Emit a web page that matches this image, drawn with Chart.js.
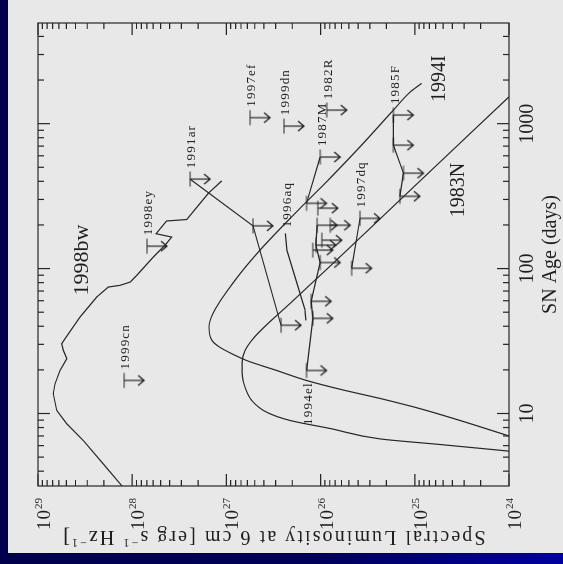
<!DOCTYPE html>
<html>
<head>
<meta charset="utf-8">
<script src="https://cdn.jsdelivr.net/npm/chart.js@4/dist/chart.umd.min.js"></script>
<style>
  html, body { margin: 0; padding: 0; width: 563px; height: 564px; overflow: hidden; }
  body { background: linear-gradient(90deg, #00004c 0%, #000058 55%, #0000a0 100%); position: relative; }
  #paper { position: absolute; left: 8px; top: 0; width: 555px; height: 553px; background: #e8e8e8; }
  #turn { position: absolute; left: 0; top: 0; width: 564px; height: 563px;
          transform-origin: 0 0; transform: translate(0, 564px) rotate(-90deg); }
</style>
</head>
<body>
<div id="paper"></div>
<div id="turn"><canvas id="c" width="564" height="563"></canvas></div>
<script>
// Axis ranges
const ageMin = 3.16, ageMax = 4950;
const lumMin = 1e24, lumMax = 1e29;
const ageMajor = [10, 100, 1000];
const ageTickLabels = ['10', '100', '1000'];
const lumMajor = [1e24, 1e25, 1e26, 1e27, 1e28, 1e29];
const lumTickExponents = ['24', '25', '26', '27', '28', '29'];

// SN 1998bw light curve (days, erg/s/Hz)
const bw98Age = [3.1, 4.49, 6.5, 8.49, 10.5, 13.7, 16.0, 19.8, 23.9, 27.2, 30.3, 32.8, 46.3, 63.6, 74.6, 76.6, 80.7, 89.8, 120, 145, 165, 174, 213, 218, 330, 403];
const bw98Lum = [1.25e28, 2.03e28, 3.30e28, 4.95e28, 6.32e28, 6.89e28, 6.6e28, 5.84e28, 4.95e28, 5.38e28, 5.6e28, 5.17e28, 3.58e28, 2.38e28, 1.79e28, 1.35e28, 1.05e28, 8.96e27, 5.97e27, 4.49e27, 3.81e27, 5.58e27, 4.31e27, 2.64e27, 1.56e27, 1.12e27];

// SN 1994I model curve
const i94Age = [7.0, 8.95, 10.8, 12.7, 14.7, 16.9, 19.8, 23.2, 25.6, 28.6, 31.9, 39.3, 49.1, 83, 134, 261, 420, 692, 1239, 1652, 1897];
const i94Lum = [1.0e24, 3.31e24, 8.8e24, 2.34e25, 6.2e25, 1.41e26, 2.92e26, 6.1e26, 8.5e26, 1.17e27, 1.42e27, 1.53e27, 1.39e27, 8.1e26, 4.40e26, 1.65e26, 7.94e25, 3.82e25, 1.69e25, 1.12e25, 8.45e24];

// SN 1983N model curve
const n83Age = [5.5, 6.11, 6.68, 7.88, 8.95, 10.2, 12.3, 15.2, 19.2, 22.5, 27.2, 34.0, 57.5, 104, 312, 1531];
const n83Lum = [1.0e24, 5.4e24, 2.34e25, 7.94e25, 2.11e26, 3.73e26, 5.38e26, 6.35e26, 6.82e26, 6.82e26, 6.35e26, 4.97e26, 2.11e26, 7.94e25, 1.33e25, 1.0e24];

// SN 1996aq detections
const aq96Age = [43.9, 52.3, 134, 175];
const aq96Lum = [1.43e26, 1.47e26, 2.28e26, 2.36e26];

// Upper limits (days, erg/s/Hz)
const cn99Age = [16.9];            const cn99Lum = [1.22e28];
const ey98Age = [142.6];           const ey98Lum = [6.97e27];
const ar91Age = [40.6, 197, 414];  const ar91Lum = [2.63e26, 5.22e26, 2.43e27];
const ef97Age = [1099];            const ef97Lum = [5.61e26];
const dn99Age = [961];             const dn99Lum = [2.45e26];
const r82Age = [1239];             const r82Lum = [8.6e25];
const m87Age = [282, 588];         const m87Lum = [1.41e26, 1.01e26];
const f85Age = [315, 455, 710, 1146]; const f85Lum = [1.44e25, 1.32e25, 1.69e25, 1.69e25];
const dq97Age = [100.5, 222];      const dq97Lum = [4.68e25, 3.82e25];
const el94Age = [19.8, 45.3, 59.4, 110, 145, 199]; const el94Lum = [1.41e26, 1.21e26, 1.26e26, 1.01e26, 1.12e26, 1.09e26];
const otherAge = [134, 157, 199, 261]; const otherLum = [1.21e26, 9.7e25, 7.9e25, 1.07e26];

const INK = '#262626';
const pts = (xs, ys) => xs.map((v, i) => ({ x: v, y: ys[i] }));

// Upper-limit glyph: bar at the value, arrow pointing to lower luminosity
function limitGlyph() {
  const c = document.createElement('canvas');
  c.width = 18; c.height = 50;
  const g = c.getContext('2d');
  const cx = 9, cy = 25;
  g.strokeStyle = INK; g.lineWidth = 1.2;
  g.beginPath();
  g.moveTo(cx - 7.5, cy); g.lineTo(cx + 7.5, cy);
  g.moveTo(cx, cy); g.lineTo(cx, cy + 20);
  g.moveTo(cx - 5, cy + 14); g.lineTo(cx, cy + 20); g.lineTo(cx + 5, cy + 14);
  g.stroke();
  return c;
}
const glyph = limitGlyph();

function curve(label, xs, ys, smooth) {
  return { label, data: pts(xs, ys), showLine: true, pointRadius: 0, borderColor: INK, borderWidth: 1.2,
           cubicInterpolationMode: smooth ? 'monotone' : 'default', tension: 0 };
}
function limits(label, xs, ys, place) {
  return { label, data: pts(xs, ys), showLine: xs.length > 1, pointStyle: glyph, pointRadius: 9,
           borderColor: INK, borderWidth: 1.2, tension: 0, place };
}

const datasets = [
  curve('1998bw', bw98Age, bw98Lum, false),
  curve('1994I', i94Age, i94Lum, true),
  curve('1983N', n83Age, n83Lum, true),
  Object.assign(curve('1996aq', aq96Age, aq96Lum, false), { place: 'after' }),
  limits('1999cn', cn99Age, cn99Lum, 'right'),
  limits('1998ey', ey98Age, ey98Lum, 'right'),
  limits('1991ar', ar91Age, ar91Lum, 'right'),
  limits('1997ef', ef97Age, ef97Lum, 'right'),
  limits('1999dn', dn99Age, dn99Lum, 'right'),
  limits('1982R', r82Age, r82Lum, 'right'),
  limits('1987M', m87Age, m87Lum, 'right'),
  limits('1985F', f85Age, f85Lum, 'right'),
  limits('1997dq', dq97Age, dq97Lum, 'right'),
  limits('1994el', el94Age, el94Lum, 'left'),
  Object.assign(limits('', otherAge, otherLum, null), { showLine: false })
];

// Big curve names, placed in data coordinates (left end, baseline)
const curveNames = [
  { text: '1998bw', age: 65.3, lum: 2.94e28, size: 22 },
  { text: '1994I', age: 1409, lum: 4.78e24, size: 20 },
  { text: '1983N', age: 226, lum: 3.0e24, size: 20 }
];

const SERIF = '"Liberation Serif", "DejaVu Serif", serif';

function spacedText(ctx, text, x, y, spacing, align) {
  let w = 0;
  for (const ch of text) w += ctx.measureText(ch).width + spacing;
  w -= spacing;
  let cx = align === 'right' ? x - w : x;
  const saved = ctx.textAlign;
  ctx.textAlign = 'left';
  for (const ch of text) { ctx.fillText(ch, cx, y); cx += ctx.measureText(ch).width + spacing; }
  ctx.textAlign = saved;
}

const axesPlugin = {
  id: 'axesPlugin',
  afterDraw(chart) {
    const { ctx, chartArea: a, scales: { x, y } } = chart;
    ctx.save();
    ctx.strokeStyle = INK; ctx.fillStyle = '#1e1e1e'; ctx.lineWidth = 1.2;
    ctx.strokeRect(a.left, a.top, a.right - a.left, a.bottom - a.top);
    ctx.beginPath();
    // age ticks on top and bottom edges
    for (let d = 1; d <= 1000; d *= 10) {
      for (let m = 1; m <= 9; m++) {
        const v = m * d;
        if (v < ageMin || v > ageMax) continue;
        const px = x.getPixelForValue(v);
        const len = m === 1 ? 12 : 6;
        ctx.moveTo(px, a.bottom); ctx.lineTo(px, a.bottom - len);
        ctx.moveTo(px, a.top); ctx.lineTo(px, a.top + len);
      }
    }
    // luminosity ticks on left and right edges
    for (let e = 24; e <= 29; e++) {
      for (let m = 1; m <= 9; m++) {
        const v = m * Math.pow(10, e);
        if (v < lumMin || v > lumMax * 1.0001) continue;
        const py = y.getPixelForValue(v);
        const len = m === 1 ? 12 : 6;
        ctx.moveTo(a.left, py); ctx.lineTo(a.left + len, py);
        ctx.moveTo(a.right, py); ctx.lineTo(a.right - len, py);
      }
    }
    ctx.stroke();

    // age tick labels
    ctx.font = '20px ' + SERIF;
    ctx.textBaseline = 'alphabetic';
    ageMajor.forEach((v, i) => {
      ctx.textAlign = 'center';
      ctx.fillText(ageTickLabels[i], x.getPixelForValue(v), a.bottom + 24);
    });
    // luminosity tick labels: 10 with raised exponent
    lumMajor.forEach((v, i) => {
      const py = y.getPixelForValue(v);
      ctx.font = '11px ' + SERIF;
      ctx.textAlign = 'right';
      const ew = ctx.measureText(lumTickExponents[i]).width;
      const right = a.left - 12;
      ctx.fillText(lumTickExponents[i], right, py + 4);
      ctx.font = '19px ' + SERIF;
      spacedText(ctx, '10', right - ew - 1, py + 12, 1, 'right');
    });

    // x title
    ctx.font = '20px ' + SERIF;
    ctx.textAlign = 'center';
    ctx.fillText('SN Age (days)', (a.left + a.right) / 2, a.bottom + 47);

    // y title, rotated, with superscripts
    const parts = [['Spectral Luminosity at 6 cm [erg s', 0], ['\u22121', 1], [' Hz', 0], ['\u22121', 1], [']', 0]];
    ctx.save();
    ctx.translate(33, (a.top + a.bottom) / 2);
    ctx.rotate(-Math.PI / 2);
    const widths = parts.map(([t, s]) => { ctx.font = (s ? '12px ' : '20px ') + SERIF; return ctx.measureText(t).width; });
    const natural = widths.reduce((p, q) => p + q, 0);
    const target = 424;
    const nChars = parts.reduce((p, [t]) => p + t.length, 0);
    const extra = (target - natural) / nChars;
    let cx = -target / 2;
    ctx.textAlign = 'left';
    parts.forEach(([t, s]) => {
      ctx.font = (s ? '12px ' : '20px ') + SERIF;
      for (const ch of t) {
        ctx.fillText(ch, cx, s ? -8 : 0);
        cx += ctx.measureText(ch).width + extra;
      }
    });
    ctx.restore();

    // curve names
    ctx.textAlign = 'left';
    curveNames.forEach(n => {
      ctx.font = n.size + 'px ' + SERIF;
      ctx.fillText(n.text, x.getPixelForValue(n.age), y.getPixelForValue(n.lum));
    });

    // SN names next to their points
    ctx.font = '13px ' + SERIF;
    ctx.textBaseline = 'middle';
    chart.data.datasets.forEach(ds => {
      if (!ds.label || !ds.place) return;
      if (ds.place === 'left') {
        const p = ds.data[0];
        spacedText(ctx, ds.label, x.getPixelForValue(p.x) - 13, y.getPixelForValue(p.y) + 2, 1.2, 'right');
      } else {
        const p = ds.data[ds.data.length - 1];
        const off = ds.place === 'after' ? 6 : 11;
        spacedText(ctx, ds.label, x.getPixelForValue(p.x) + off, y.getPixelForValue(p.y) + 2, 1.2, 'left');
      }
    });
    ctx.restore();
  }
};

new Chart(document.getElementById('c'), {
  type: 'scatter',
  data: { datasets },
  options: {
    responsive: false,
    animation: false,
    devicePixelRatio: 1,
    layout: { padding: { left: 78, right: 23, top: 38, bottom: 54 } },
    scales: {
      x: { type: 'logarithmic', min: ageMin, max: ageMax, display: false },
      y: { type: 'logarithmic', min: lumMin, max: lumMax, display: false }
    },
    plugins: { legend: { display: false }, tooltip: { enabled: false } }
  },
  plugins: [axesPlugin]
});
</script>
</body>
</html>
